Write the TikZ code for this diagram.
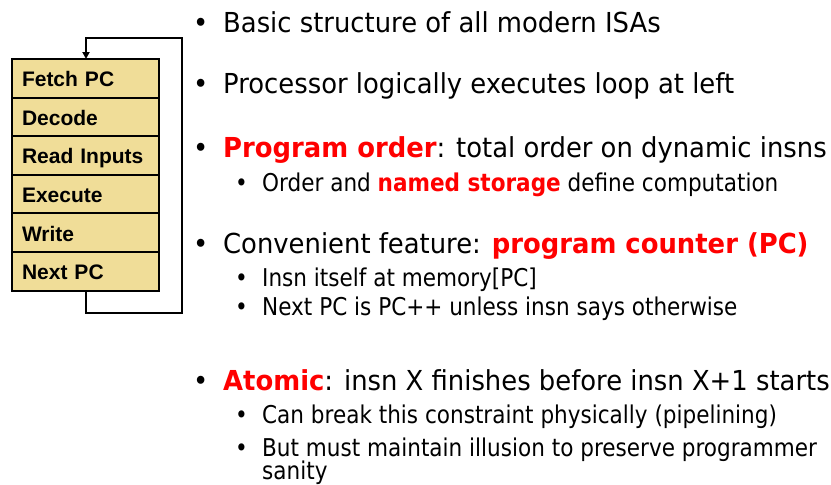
\documentclass[tikz,border=0pt]{standalone}
\usepackage{fontspec}
\setmainfont{DejaVu Sans}[FakeStretch=0.94]
\newfontfamily\subfont{DejaVu Sans}[FakeStretch=0.88]
\newfontfamily\boxfont{Liberation Sans}
\usetikzlibrary{arrows.meta,positioning}
\definecolor{stagefill}{RGB}{240,221,152}
\definecolor{hilite}{RGB}{255,0,0}
\newcommand{\hl}[1]{\textcolor{hilite}{\bfseries #1}}

\begin{document}
\begin{tikzpicture}[x=1pt, y=-1pt,
  stage/.style={draw, line width=2pt, fill=stagefill, outer sep=0pt, minimum width=147pt, minimum height=38.6pt,
                text width=127pt, text height=20pt, text depth=3.2pt, inner xsep=10pt, align=left,
                font=\boxfont\bfseries\fontsize{21}{24}\selectfont},
  mainitem/.style={anchor=base west, inner sep=0pt, font=\fontsize{27.5}{33}\selectfont},
  subitem/.style={anchor=base west, inner sep=0pt, align=left, font=\subfont\fontsize{24.5}{23}\selectfont},
  >={Triangle[length=7pt, width=7pt]}
]
  \useasboundingbox (0,0) rectangle (831,485);

  % the loop of stages
  \node[stage, anchor=north west] (fetch) at (12,59) {Fetch PC};
  \node[stage, below=0pt of fetch] (decode) {Decode};
  \node[stage, below=0pt of decode] (read) {Read Inputs};
  \node[stage, below=0pt of read] (exec) {Execute};
  \node[stage, below=0pt of exec] (write) {Write};
  \node[stage, below=0pt of write] (next) {Next PC};

  \coordinate (c1) at (86,313);
  \coordinate (c2) at (182,313);
  \coordinate (c3) at (182,38);
  \coordinate (c4) at (86,38);
  \draw[->, line width=2pt] (next.south -| c1) -- (c1) -- (c2) -- (c3) -- (c4) -- (fetch.north -| c4);

  % bullet text
  \node[mainitem] (b1) at (193,32) {\makebox[30pt][l]{\textbullet}Basic structure of all modern ISAs};
  \node[mainitem] (b2) at (193,93) {\makebox[30pt][l]{\textbullet}Processor logically executes loop at left};
  \node[mainitem] (b3) at (193,157) {\makebox[30pt][l]{\textbullet}\hl{Program order}: total order on dynamic insns};
  \node[subitem] (b3a) at (235,191) {\makebox[27pt][l]{\textbullet}Order and \hl{named storage} define computation};
  \node[mainitem] (b4) at (193,253) {\makebox[30pt][l]{\textbullet}Convenient feature: \hl{program counter (PC)}};
  \node[subitem] (b4a) at (235,286) {\makebox[27pt][l]{\textbullet}Insn itself at memory[PC]};
  \node[subitem] (b4b) at (235,315) {\makebox[27pt][l]{\textbullet}Next PC is PC++ unless insn says otherwise};
  \node[mainitem] (b5) at (193,390) {\makebox[30pt][l]{\textbullet}\hl{Atomic}: insn X finishes before insn X+1 starts};
  \node[subitem] (b5a) at (235,423) {\makebox[27pt][l]{\textbullet}Can break this constraint physically (pipelining)};
  \node[subitem] (b5b) at (235,479) {\makebox[27pt][l]{\textbullet}But must maintain illusion to preserve programmer\\[-2pt]\hspace*{27pt}sanity};
\end{tikzpicture}
\end{document}
